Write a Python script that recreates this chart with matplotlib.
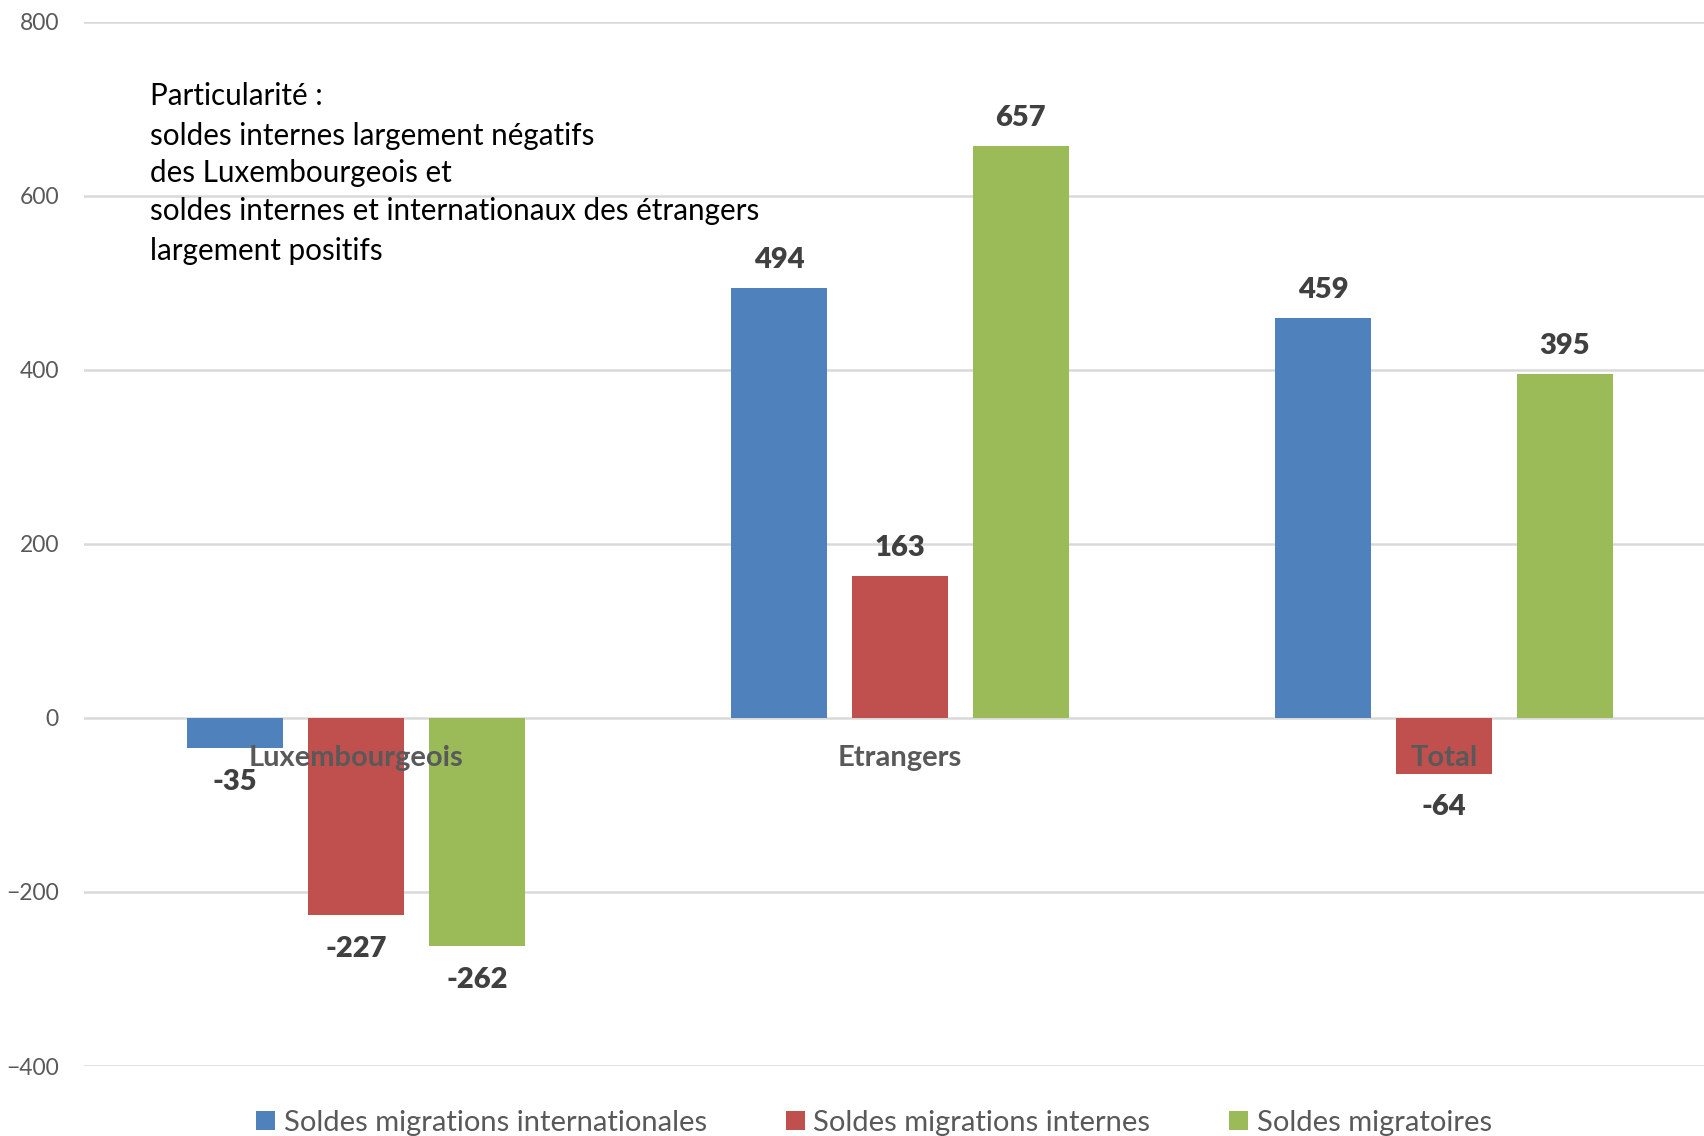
import matplotlib
matplotlib.use("Agg")
import matplotlib.pyplot as plt
from matplotlib.patches import Patch
import numpy as np

# data
categories = ["Luxembourgeois", "Etrangers", "Total"]
series_names = ["Soldes migrations internationales", "Soldes migrations internes", "Soldes migratoires"]
internationales = [-35, 494, 459]
internes = [-227, 163, -64]
migratoires = [-262, 657, 395]
colors = ["#4F81BD", "#C0504D", "#9BBB59"]

note_lines = [
    "Particularité :",
    "soldes internes largement négatifs",
    "des Luxembourgeois et",
    "soldes internes et internationaux des étrangers",
    "largement positifs",
]

plt.rcParams["font.family"] = ["Lato", "DejaVu Sans"]

fig = plt.figure(figsize=(17.04, 11.36), dpi=100)
ax = fig.add_axes([84 / 1704, 0.0616, 1632 / 1704, 0.9193])

x = np.arange(len(categories))
width = 0.176
step = 0.222
values = [internationales, internes, migratoires]

for i, (vals, col) in enumerate(zip(values, colors)):
    pos = x + (i - 1) * step
    ax.bar(pos, vals, width, color=col, zorder=2)
    for p, v in zip(pos, vals):
        off = 11 if v >= 0 else -15
        ax.annotate(str(v), (p, v), xytext=(0, off), textcoords="offset points",
                    ha="center", va="bottom" if v >= 0 else "top",
                    fontsize=21, fontweight="heavy", color="#404040", zorder=4)

for xi, name in zip(x, categories):
    ax.annotate(name, (xi, 0), xytext=(0, -29), textcoords="offset points",
                ha="center", va="center", fontsize=21, fontweight="bold",
                color="#595959", zorder=3)

ax.set_xlim(-0.5, 2.5)
ax.set_ylim(-400, 800)
ax.set_yticks(range(-400, 801, 200))
ax.set_xticks([])
ax.tick_params(axis="y", length=0, pad=18, labelsize=16.5, labelcolor="#595959")
ax.grid(axis="y", color="#D9D9D9", linewidth=1.8, zorder=0)
ax.set_axisbelow(True)
for s in ax.spines.values():
    s.set_visible(False)

# note box
note_y = [96, 136, 173, 211, 251]
for line, yy in zip(note_lines, note_y):
    fig.text(150 / 1704, 1 - yy / 1136, line, fontsize=21.3, color="black", va="center", ha="left")

handles = [Patch(facecolor=c, edgecolor="none") for c in colors]
fig.legend(handles, series_names, loc="center", bbox_to_anchor=(874 / 1704, 1 - 1123 / 1136),
           ncol=3, frameon=False, fontsize=21, labelcolor="#595959",
           handlelength=0.65, handleheight=0.65, handletextpad=0.3, columnspacing=2.7)

fig.savefig("out.png", dpi=100)
